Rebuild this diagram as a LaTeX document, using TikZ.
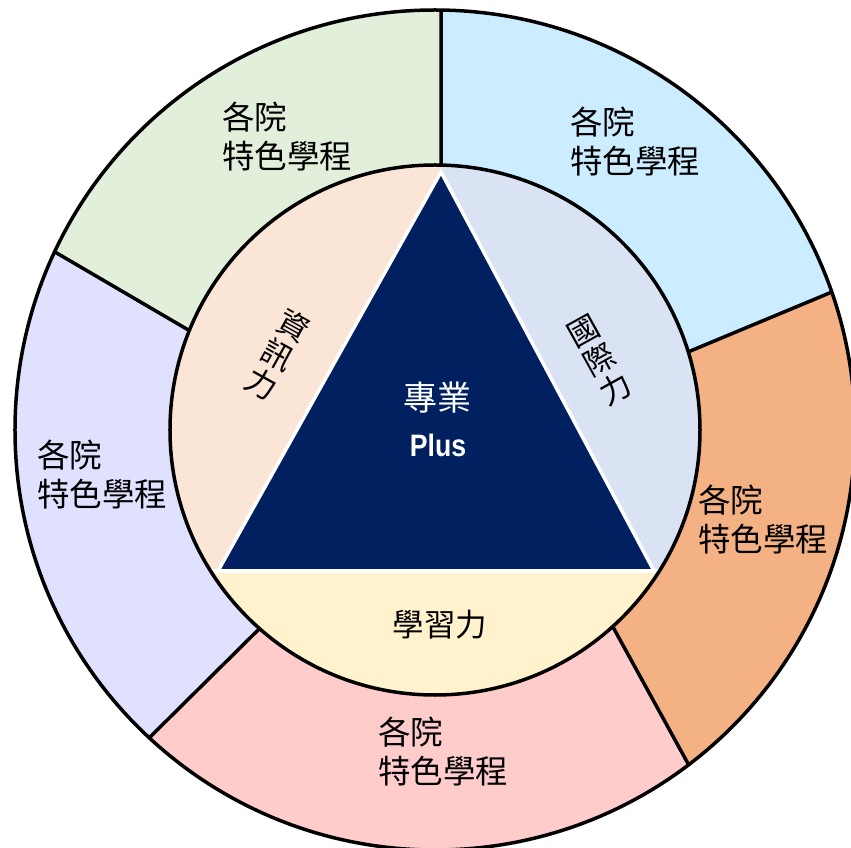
\documentclass[tikz,border=0pt]{standalone}
\usepackage{fontspec}
\setmainfont{Noto Sans CJK TC}
\newfontfamily\plusfont{Liberation Sans}
\usetikzlibrary{positioning}

\definecolor{navyblue}{HTML}{002060}
\definecolor{segorange}{HTML}{F4B183}
\definecolor{segsky}{HTML}{CCECFF}
\definecolor{seggreen}{HTML}{E2EFDA}
\definecolor{seglilac}{HTML}{E0E0FF}
\definecolor{segpink}{HTML}{FFCCCC}
\definecolor{innerpeach}{HTML}{FBE5D6}
\definecolor{innergrey}{HTML}{DAE3F3}
\definecolor{inneryellow}{HTML}{FFF2CC}

\begin{document}
\begin{tikzpicture}[x=1pt, y=1pt,
		ring/.style={line width=3.5pt},
		school/.style={align=left, inner sep=0pt, anchor=west, font=\fontsize{32.5}{39}\selectfont},
		skill/.style={align=center, inner sep=0pt, font=\fontsize{31}{33}\selectfont},
	]
	\useasboundingbox (-435,-418) rectangle (416,430);
	
	% outer ring
	\foreach \col/\ao/\bo/\ai/\bi in {segorange/-52.85/19.17/-47.88/17.15, segsky/19.17/89.18/17.15/88.69, seggreen/89.18/154.9/88.69/157.96, seglilac/154.9/227.13/157.96/228.53, segpink/227.13/307.15/228.53/312.12}
		\fill[\col] (\ao:420) arc[start angle=\ao, end angle=\bo, radius=420] -- (\bi:265) arc[start angle=\bi, end angle=\ai, radius=265] -- cycle;
	
	% inner disc
	\begin{scope}
		\clip (0,0) circle[radius=265];
		\fill[innerpeach] (-265,-141) rectangle (6,265);
		\fill[innergrey] (6,-141) rectangle (265,265);
		\fill[inneryellow] (-265,-265) rectangle (265,-141);
	\end{scope}
	\fill[navyblue, draw=white, line width=3.5pt, line join=miter] (6,258) -- (-217,-141) -- (219,-141) -- cycle;
	\draw[white, line width=3.5pt] (-224,-141) -- (224,-141);
	
	\draw[ring] (0,0) circle[radius=420];
	\draw[ring] (0,0) circle[radius=265];
	\foreach \ai/\ao in {17.15/19.17, 88.69/89.18, 157.96/154.9, 228.53/227.13, 312.12/307.15}
		\draw[ring] (\ai:265) -- (\ao:420);
	
	\node (tl) [school] at (-213,293) {各院\\特色學程};
	\node (tr) [school] at (135,288) {各院\\特色學程};
	\node (lf) [school] at (-398,-45) {各院\\特色學程};
	\node (rt) [school] at (263,-90) {各院\\特色學程};
	\node (bt) [school] at (-57,-322) {各院\\特色學程};
	
	\node (info) [skill, rotate=-29] at (-157,75) {資\\訊\\力};
	\node (intl) [skill, rotate=29] at (165,70) {國\\際\\力};
	\node (learn) [inner sep=0pt, font=\fontsize{31.5}{33}\selectfont] at (5,-195) {學習力};
	
	\node (major) [white, inner sep=0pt, font=\fontsize{34}{40}\selectfont] at (3,32) {專業};
	\node (plus) [white, inner sep=0pt, below=20pt of major, font=\plusfont\bfseries\fontsize{31}{36}\selectfont] {\scalebox{0.86}[1]{Plus}};
\end{tikzpicture}
\end{document}
